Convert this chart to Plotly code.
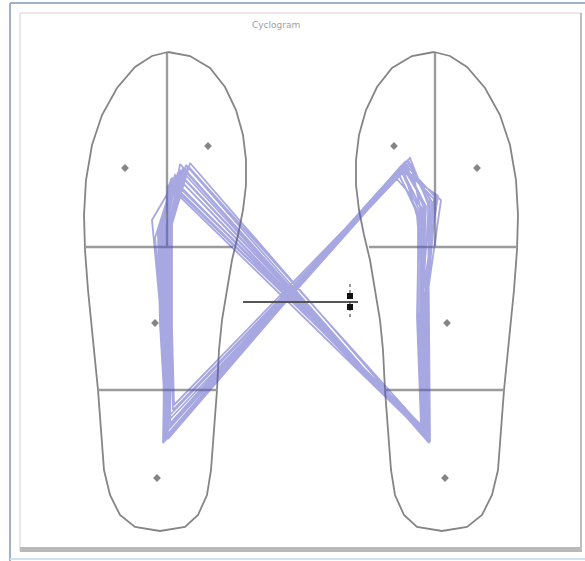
import plotly.graph_objects as go

# ---------------- data (pixel-like plate units) ----------------
# left insole outline (right insole is its mirror image)
foot_outline_x = [168, 190, 210, 225, 236, 243, 246, 246, 243, 238, 232, 227, 222, 219, 217, 214, 211,
                  207, 198, 185, 160, 135, 120, 110, 104, 101, 98, 93, 88, 85, 84, 86, 92, 102, 117,
                  135, 152, 168]
foot_outline_y = [52, 56, 68, 87, 110, 135, 160, 185, 210, 235, 260, 290, 320, 350, 390, 430, 470,
                  495, 515, 527, 531, 527, 515, 495, 470, 430, 390, 340, 290, 250, 215, 180, 145, 115, 88,
                  67, 56, 52]
mirror_axis = 602

# divider lines of the left insole: vertical toe split, forefoot line, midfoot line
divider_vert_x = [167, 167]
divider_vert_y = [53, 247]
divider_fore_x = [86, 233]
divider_fore_y = [247, 247]
divider_mid_x = [98, 218]
divider_mid_y = [390, 390]

# sensor markers of the left insole
sensor_x = [125, 208, 155, 157]
sensor_y = [168, 146, 323, 478]

# cyclogram landmarks per gait cycle
left_top_x = [178, 183, 172, 186, 175, 190, 170, 181, 176, 188, 173, 184, 179, 168, 185, 174, 180, 171]
left_top_y = [172, 168, 178, 165, 175, 163, 182, 170, 176, 166, 180, 169, 174, 185, 171, 188, 164, 179]
left_upper_x = [165, 168, 160, 170, 155, 172, 162, 167, 158, 171, 164, 169, 152, 163, 166, 159, 170, 161]
left_upper_y = [232, 228, 236, 226, 238, 224, 240, 230, 234, 227, 242, 229, 220, 244, 231, 237, 225, 239]
left_mid_x = [166, 170, 163, 171, 162, 172, 165, 168, 160, 170, 166, 169, 161, 164, 167, 162, 171, 165]
left_mid_y = [318, 322, 315, 325, 312, 328, 320, 316, 324, 319, 313, 326, 317, 321, 318, 323, 314, 320]
left_bottom_x = [166, 168, 164, 170, 165, 174, 163, 167, 166, 173, 168, 165, 169, 164, 167, 165, 170, 166]
left_bottom_y = [438, 430, 442, 425, 440, 405, 443, 435, 428, 410, 439, 432, 420, 441, 436, 433, 415, 440]
right_top_x = [404, 400, 408, 398, 406, 402, 410, 401, 405, 399, 407, 403, 411, 400, 396, 409, 404, 402]
right_top_y = [163, 168, 160, 172, 165, 170, 158, 166, 162, 175, 161, 167, 164, 169, 178, 163, 171, 166]
right_upper_x = [425, 420, 430, 418, 436, 422, 428, 441, 424, 419, 432, 426, 421, 438, 423, 429, 417, 434]
right_upper_y = [205, 212, 200, 215, 198, 210, 204, 200, 208, 214, 202, 206, 211, 196, 209, 203, 216, 199]
right_mid_x = [423, 420, 427, 418, 425, 421, 429, 424, 420, 417, 426, 422, 428, 419, 424, 421, 426, 423]
right_mid_y = [320, 315, 325, 318, 322, 316, 324, 319, 321, 317, 323, 314, 326, 318, 320, 322, 317, 321]
right_bottom_x = [427, 424, 429, 422, 428, 425, 430, 426, 423, 421, 428, 425, 429, 424, 426, 427, 423, 428]
right_bottom_y = [440, 435, 443, 430, 438, 432, 442, 437, 428, 425, 441, 434, 439, 436, 431, 440, 427, 437]

# mean line of COP and its spread marker
mean_line_x = [243, 358]
mean_line_y = [302, 302]
spread_x = [350, 350]
spread_y = [284, 318]
spread_marks_x = [350, 350]
spread_marks_y = [296, 307]

# ---------------- build ----------------
W, H = 585, 561
fig = go.Figure()

# frame
shapes = [
    dict(type="rect", x0=20, y0=13, x1=581, y1=551, line=dict(color="#d2d2d2", width=1),
         fillcolor="white", layer="below"),
    dict(type="rect", x0=20, y0=547, x1=581, y1=552, line=dict(width=0),
         fillcolor="#b9b9b9", layer="below"),
    dict(type="line", x0=581, y0=13, x1=581, y1=552, line=dict(color="#bdbdbd", width=2), layer="below"),
    dict(type="line", x0=10, y0=3, x1=585, y1=3, line=dict(color="#9fb2c9", width=2), layer="below"),
    dict(type="line", x0=10, y0=3, x1=10, y1=561, line=dict(color="#9fb2c9", width=2), layer="below"),
    dict(type="line", x0=10, y0=559, x1=585, y1=559, line=dict(color="#cfe0f0", width=2), layer="below"),
]

outline_col = "#858585"
divider_col = "#9c9c9c"
for side in (0, 1):
    def mx(xs):
        return [mirror_axis - v for v in xs] if side else list(xs)
    fig.add_trace(go.Scatter(x=mx(foot_outline_x), y=foot_outline_y, mode="lines",
                             line=dict(color=outline_col, width=1.8), hoverinfo="skip"))
    for dx, dy in ((divider_vert_x, divider_vert_y), (divider_fore_x, divider_fore_y),
                   (divider_mid_x, divider_mid_y)):
        fig.add_trace(go.Scatter(x=mx(dx), y=dy, mode="lines",
                                 line=dict(color=divider_col, width=2.4), hoverinfo="skip"))
    fig.add_trace(go.Scatter(x=mx(sensor_x), y=sensor_y, mode="markers",
                             marker=dict(symbol="diamond", size=6, color="#858585"), hoverinfo="skip"))

# cyclogram path
path_x, path_y = [], []
for i in range(len(left_top_x)):
    path_x += [left_top_x[i], left_upper_x[i], left_mid_x[i], left_bottom_x[i],
               right_top_x[i], right_upper_x[i], right_mid_x[i], right_bottom_x[i]]
    path_y += [left_top_y[i], left_upper_y[i], left_mid_y[i], left_bottom_y[i],
               right_top_y[i], right_upper_y[i], right_mid_y[i], right_bottom_y[i]]
path_x.append(left_top_x[0])
path_y.append(left_top_y[0])
fig.add_trace(go.Scatter(x=path_x, y=path_y, mode="lines",
                         line=dict(color="rgba(80,80,195,0.5)", width=1.8), hoverinfo="skip"))

fig.add_trace(go.Scatter(x=mean_line_x, y=mean_line_y, mode="lines",
                         line=dict(color="#555555", width=2), hoverinfo="skip"))
fig.add_trace(go.Scatter(x=spread_x, y=spread_y, mode="lines",
                         line=dict(color="#333333", width=1, dash="dot"), hoverinfo="skip"))
fig.add_trace(go.Scatter(x=spread_marks_x, y=spread_marks_y, mode="markers",
                         marker=dict(symbol="square", size=6, color="#111111"), hoverinfo="skip"))

fig.update_layout(
    width=W, height=H,
    margin=dict(l=0, r=0, t=0, b=0),
    paper_bgcolor="white", plot_bgcolor="white",
    showlegend=False,
    shapes=shapes,
    xaxis=dict(range=[0, W], visible=False, fixedrange=True),
    yaxis=dict(range=[H, 0], visible=False, fixedrange=True),
    annotations=[dict(x=276, y=25, xref="x", yref="y", text="Cyclogram", showarrow=False,
                      font=dict(family="DejaVu Sans", size=9, color="#a0a0a0"))],
)

fig.write_html("out.html", config={"displayModeBar": False},
               post_script="document.body.style.margin='0';document.body.style.overflow='hidden';")
